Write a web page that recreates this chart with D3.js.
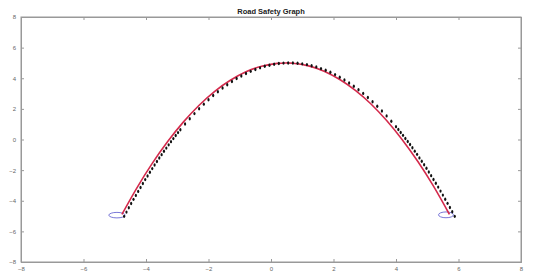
<!DOCTYPE html>
<html>
<head>
<meta charset="utf-8">
<script src="https://cdn.jsdelivr.net/npm/d3@7"></script>
<style>
  body { margin: 0; background: #fff; }
  svg { display: block; font-family: "Liberation Sans", Arial, sans-serif; }
  .axis text { fill: #666; font-size: 6px; }
  .axis path, .axis line { stroke: #999; }
</style>
</head>
<body>
<svg class="chart" width="548" height="273"></svg>
<script>
// tick labels
const xTicks = [-8, -6, -4, -2, 0, 2, 4, 6, 8];
const yTicks = [-8, -6, -4, -2, 0, 2, 4, 6, 8];

// red reference road line
const roadX = [-4.77, -4.3, -3.8, -3.3, -2.8, -2.3, -1.8, -1.3, -0.8, -0.3, 0.2, 0.47, 0.7,
               1.2, 1.7, 2.2, 2.7, 3.2, 3.7, 4.2, 4.7, 5.2, 5.71];
const roadY = [-4.89, -3.19, -1.56, -0.12, 1.15, 2.24, 3.15, 3.87, 4.42, 4.79, 4.97, 5.0, 4.98,
               4.81, 4.46, 3.92, 3.21, 2.32, 1.24, -0.01, -1.44, -3.05, -4.89];

// black vehicle track points
const trackX = [-4.70, -4.625, -4.55, -4.475, -4.40, -4.325, -4.25, -4.175, -4.10, -4.025,
                -3.95, -3.875, -3.80, -3.725, -3.65, -3.575, -3.50, -3.425, -3.35, -3.275,
                -3.20, -3.125, -3.05, -2.975,
                -2.90, -2.75, -2.60, -2.45, -2.30, -2.15, -2.00, -1.85, -1.70, -1.55, -1.40, -1.25,
                -1.10, -0.95, -0.80, -0.65, -0.50, -0.35, -0.20, -0.05, 0.10, 0.25, 0.40, 0.55,
                0.70, 0.85, 1.00, 1.15, 1.30, 1.45, 1.60, 1.75, 1.90, 2.05, 2.20, 2.35,
                2.50, 2.65, 2.80, 2.95, 3.10, 3.25, 3.40, 3.55, 3.70, 3.85, 4.00,
                4.075, 4.15, 4.225, 4.30, 4.375, 4.45, 4.525, 4.60, 4.675, 4.75, 4.825, 4.90,
                4.975, 5.05, 5.125, 5.20, 5.275, 5.35, 5.425, 5.50, 5.575, 5.65, 5.725, 5.80, 5.88];
const trackY = [-5.02, -4.74, -4.46, -4.18, -3.91, -3.65, -3.39, -3.13, -2.87, -2.62,
                -2.38, -2.14, -1.90, -1.67, -1.44, -1.21, -0.99, -0.77, -0.56, -0.35,
                -0.14, 0.06, 0.26, 0.45,
                0.64, 1.01, 1.36, 1.69, 2.01, 2.31, 2.60, 2.87, 3.12, 3.36, 3.58, 3.79,
                3.98, 4.15, 4.31, 4.45, 4.57, 4.68, 4.78, 4.85, 4.91, 4.96, 4.99, 5.00,
                5.00, 4.98, 4.94, 4.89, 4.82, 4.74, 4.63, 4.52, 4.39, 4.24, 4.07, 3.89,
                3.69, 3.48, 3.25, 3.01, 2.74, 2.47, 2.17, 1.86, 1.54, 1.19, 0.84,
                0.65, 0.46, 0.27, 0.07, -0.13, -0.33, -0.54, -0.76, -0.97, -1.20, -1.42, -1.65,
                -1.88, -2.12, -2.36, -2.61, -2.86, -3.11, -3.37, -3.63, -3.90, -4.17, -4.44, -4.72, -5.02];

// start / end markers (ellipses)
const markX = [-4.93, 5.60];
const markY = [-4.94, -4.92];
const markRx = [0.26, 0.24];
const markRy = [0.18, 0.19];

const svg = d3.select(".chart");
const x = d3.scaleLinear().domain([-8, 8]).range([21, 521]);
const y = d3.scaleLinear().domain([-8, 8]).range([262, 17]);

// box
svg.append("rect")
    .attr("x", x(-8)).attr("y", y(8))
    .attr("width", x(8) - x(-8)).attr("height", y(-8) - y(8))
    .attr("fill", "#fff").attr("stroke", "#999");

// axes
svg.append("g").attr("class", "axis")
    .attr("transform", `translate(0,${y(-8)})`)
    .call(d3.axisBottom(x).tickValues(xTicks).tickSize(-3).tickPadding(5));
svg.append("g").attr("class", "axis")
    .attr("transform", `translate(${x(-8)},0)`)
    .call(d3.axisLeft(y).tickValues(yTicks).tickSize(-3).tickPadding(5));
svg.append("g").attr("class", "axis")
    .attr("transform", `translate(0,${y(8)})`)
    .call(d3.axisTop(x).tickValues(xTicks).tickSize(-3).tickFormat(""));
svg.append("g").attr("class", "axis")
    .attr("transform", `translate(${x(8)},0)`)
    .call(d3.axisRight(y).tickValues(yTicks).tickSize(-3).tickFormat(""));

// title
svg.append("text")
    .attr("x", x(0)).attr("y", 14)
    .attr("text-anchor", "middle")
    .attr("font-size", 7.5).attr("font-weight", "bold").attr("fill", "#222")
    .text("Road Safety Graph");

// ellipses
svg.append("g").selectAll("ellipse")
    .data(markX)
    .enter().append("ellipse")
    .attr("cx", d => x(d))
    .attr("cy", (d, i) => y(markY[i]))
    .attr("rx", (d, i) => x(markRx[i]) - x(0))
    .attr("ry", (d, i) => y(0) - y(markRy[i]))
    .attr("fill", "none").attr("stroke", "#7a78d8").attr("stroke-width", 1);

// red road line
const road = roadX.map((d, i) => [d, roadY[i]]);
svg.append("path")
    .datum(road)
    .attr("fill", "none")
    .attr("stroke", "#d42a4c")
    .attr("stroke-width", 1.6)
    .attr("d", d3.line().x(d => x(d[0])).y(d => y(d[1])).curve(d3.curveNatural));

// black track dots
svg.append("g").selectAll("ellipse")
    .data(trackX)
    .enter().append("ellipse")
    .attr("cx", d => x(d))
    .attr("cy", (d, i) => y(trackY[i]))
    .attr("rx", 1.1).attr("ry", 1.7)
    .attr("fill", "#111");
</script>
</body>
</html>
